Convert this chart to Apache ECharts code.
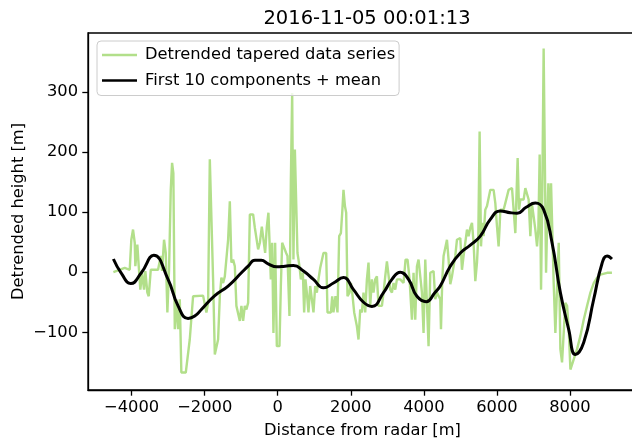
<!DOCTYPE html>
<html>
<head>
<meta charset="utf-8">
<script src="https://cdn.jsdelivr.net/npm/echarts@6/dist/echarts.min.js"></script>
<style>
  html, body { margin: 0; padding: 0; background: #fff; }
  #chart { width: 632px; height: 443px; }
</style>
</head>
<body>
<div id="chart"></div>
<script>
// Detrended, tapered height profile along the radar track
const dataX = [
  -4500, -4189, -4053, -4009, -3962, -3915, -3899, -3844, -3806, -3762, -3715, -3661, -3625, -3570, -3532, -3477,
  -3277, -3203, -3167, -3113, -3066, -3022, -2976, -2929, -2893, -2858, -2819, -2775, -2729, -2682, -2639, -2518,
  -2409, -2318, -2044, -1997, -1953, -1907, -1860, -1817, -1770, -1723, -1633, -1586, -1543, -1496, -1449, -1359,
  -1312, -1269, -1222, -1175, -1132, -1085, -1038, -995, -948, -901, -858, -811, -764, -674, -627, -584,
  -537, -490, -436, -392, -345, -299, -255, -227, -189, -153, -118, -71, -25, 47, 85, 121,
  175, 230, 266, 321, 359, 395, 430, 469, 504, 540, 595, 633, 688, 723, 759, 797,
  841, 888, 934, 978, 1025, 1071, 1115, 1162, 1208, 1252, 1326, 1362, 1455, 1491, 1526, 1581,
  1636, 1682, 1729, 1765, 1800, 1839, 1874, 1910, 1965, 2003, 2039, 2093, 2167, 2211, 2258, 2304,
  2348, 2395, 2441, 2485, 2532, 2578, 2622, 2669, 2715, 2759, 2852, 2896, 2943, 2989, 3033, 3080,
  3126, 3170, 3217, 3263, 3354, 3444, 3499, 3554, 3609, 3674, 3718, 3765, 3811, 3855, 3902, 3948,
  3992, 4039, 4085, 4129, 4176, 4222, 4266, 4313, 4359, 4450, 4469, 4505, 4540, 4587, 4633, 4677,
  4724, 4770, 4814, 4861, 4907, 4998, 5044, 5088, 5135, 5181, 5225, 5272, 5318, 5362, 5409, 5455,
  5491, 5527, 5565, 5601, 5636, 5683, 5729, 5773, 5820, 5910, 5957, 6003, 6047, 6075, 6094, 6184,
  6231, 6277, 6321, 6414, 6458, 6505, 6551, 6568, 6606, 6642, 6688, 6732, 6779, 6825, 6869, 6916,
  6957, 7006, 7053, 7099, 7135, 7171, 7209, 7244, 7280, 7319, 7346, 7373, 7409, 7445, 7483, 7519,
  7555, 7601, 7647, 7693, 7738, 7784, 7829, 7875, 7922, 7966, 8013, 8103, 8195, 8286, 8377, 8469,
  8560, 8651, 8743, 8834, 9017, 9150
];
const dataY = [
  0, 7, 4, 54, 71, 49, 10, 46, 10, -29, -1, -29, 2, -34, -40, 4,
  4, 27, 2, 54, 32, -67, 4, 137, 182, 165, -95, -45, -95, -45, -167, -167,
  -112, -40, -39, -40, -67, -51, 188, 188, -12, -137, -112, -40, -9, -18, -7, 54,
  118, 16, 21, 10, -56, -56, -81, -56, -81, -56, -62, -51, 96, 96, 74, 71,
  38, 49, 76, 74, 32, 76, 99, 54, -12, 49, -101, 49, -123, -123, -23, 49,
  49, 32, 27, -73, 154, 298, 21, 204, 204, 32, 10, -12, -1, -67, -12, -34,
  -67, -23, -45, -67, -23, -34, -12, 7, 7, 32, 32, -67, -67, -40, -67, -40,
  -67, 60, 65, 99, 137, 110, 99, -40, -34, -18, -34, -67, -90, -112, -62, -67,
  -34, -67, -12, 16, -56, -12, -34, -12, -7, -56, -56, -34, -7, 18, 18, -29,
  -34, -18, -29, -12, -12, -18, 21, 21, -12, -79, -1, -79, 10, 21, 21, -34,
  -101, 21, 21, -123, -1, 2, 2, -45, -34, -45, -95, -12, 27, 27, 54, 21,
  -20, -7, 10, 27, 54, 57, 4, 27, 27, 71, 60, 74, 82, 49, -15, 16,
  60, 234, 43, 82, 60, 104, 110, 110, 137, 137, 115, 76, 43, 76, 104, 104,
  115, 115, 137, 140, 104, 65, 65, 190, 104, 121, 121, 121, 140, 143, 121, 60,
  115, 93, 71, 43, 71, 196, -29, 137, 372, 372, -1, 71, 148, 71, 148, 148,
  -18, -101, -101, 49, -128, -150, -150, -51, -56, -95, -162, -145, -128, -106, -79, -56,
  -34, -18, -9, -4, -1, -1
];

// Reconstruction from the leading ten components plus the mean
const fitX = [
  -4500, -4280, -4025, -3735, -3395, -3003, -2729, -2455, -2272, -2091, -1723, -1359, -995, -811, -627, -450,
  -263, -25, 200, 430, 704, 978, 1252, 1526, 1800, 2074, 2348, 2578, 2896, 3126, 3354, 3581,
  3811, 4066, 4300, 4450, 4724, 4998, 5272, 5546, 5820, 6094, 6368, 6551, 6800, 7053, 7280, 7510,
  7738, 7966, 8149, 8377, 8651, 8880, 9017, 9150
];
const fitY = [
  22, -2, -19, -1, 28, -12, -56, -77, -73, -62, -39, -23, -1, 10, 20, 20,
  14, 9, 10, 11, 2, -12, -26, -18, -9, -29, -50, -57, -34, -12, 0, -12,
  -40, -49, -34, -23, 10, 32, 45, 60, 88, 102, 99, 98, 108, 115, 104, 49,
  -34, -95, -137, -117, -45, 15, 27, 22
];

const xTicks = [-4000, -2000, 0, 2000, 4000, 6000, 8000];
const yTicks = [-100, 0, 100, 200, 300];

const FONT = 'DejaVu Sans';
const TXT = 16.3;
const minusSign = v => String(v).replace('-', '\u2212');
const pairs = (xs, ys) => xs.map((x, i) => [x, ys[i]]);

const chart = echarts.init(document.getElementById('chart'), null, { renderer: 'canvas' });
chart.setOption({
  animation: false,
  backgroundColor: '#ffffff',
  title: {
    text: '2016-11-05 00:01:13',
    left: 362,
    top: 4,
    textAlign: 'center',
    textStyle: { fontFamily: FONT, fontSize: 19.5, fontWeight: 'normal', color: '#000' }
  },
  grid: {
    left: 88, top: 33, width: 549, height: 357,
    show: true, borderColor: '#000', borderWidth: 1.3, backgroundColor: 'transparent',
    containLabel: false, outerBoundsMode: 'none'
  },
  legend: {
    orient: 'vertical',
    left: 97, top: 41,
    itemWidth: 35, itemHeight: 2.6, itemGap: 9.5,
    padding: [6, 4, 7, 5],
    backgroundColor: 'rgba(255,255,255,0.8)',
    borderColor: '#cccccc', borderWidth: 1, borderRadius: 4,
    textStyle: { fontFamily: FONT, fontSize: TXT, color: '#000', padding: [0, 0, 0, 3] },
    data: [
      { name: 'Detrended tapered data series', icon: 'rect' },
      { name: 'First 10 components + mean', icon: 'rect' }
    ]
  },
  xAxis: {
    type: 'value', min: -5195, max: 9836,
    name: 'Distance from radar [m]', nameLocation: 'middle', nameGap: 33, nameMoveOverlap: false,
    nameTextStyle: { fontFamily: FONT, fontSize: TXT, color: '#000' },
    axisLine: { show: true, onZero: false, lineStyle: { color: '#000', width: 1.3 } },
    axisTick: { show: true, length: 5.7, lineStyle: { color: '#000', width: 1.3 }, customValues: xTicks },
    axisLabel: { fontFamily: FONT, fontSize: TXT, color: '#000', margin: 10, customValues: xTicks,
                 formatter: minusSign, showMinLabel: true, showMaxLabel: true },
    splitLine: { show: false }
  },
  yAxis: {
    type: 'value', min: -196, max: 398,
    name: 'Detrended height [m]', nameLocation: 'middle', nameGap: 61, nameRotate: 90, nameMoveOverlap: false,
    nameTextStyle: { fontFamily: FONT, fontSize: TXT, color: '#000' },
    axisLine: { show: true, onZero: false, lineStyle: { color: '#000', width: 1.3 } },
    axisTick: { show: true, length: 5.7, lineStyle: { color: '#000', width: 1.3 }, customValues: yTicks },
    axisLabel: { fontFamily: FONT, fontSize: TXT, color: '#000', margin: 10, customValues: yTicks,
                 formatter: minusSign },
    splitLine: { show: false }
  },
  series: [
    {
      name: 'Detrended tapered data series',
      type: 'line',
      data: pairs(dataX, dataY),
      symbol: 'none',
      color: '#b2df8a',
      lineStyle: { color: '#b2df8a', width: 2.4 },
      z: 2
    },
    {
      name: 'First 10 components + mean',
      type: 'line',
      data: pairs(fitX, fitY),
      symbol: 'none',
      smooth: 0.5,
      color: '#000000',
      lineStyle: { color: '#000000', width: 3 },
      z: 3
    }
  ]
});
</script>
</body>
</html>
